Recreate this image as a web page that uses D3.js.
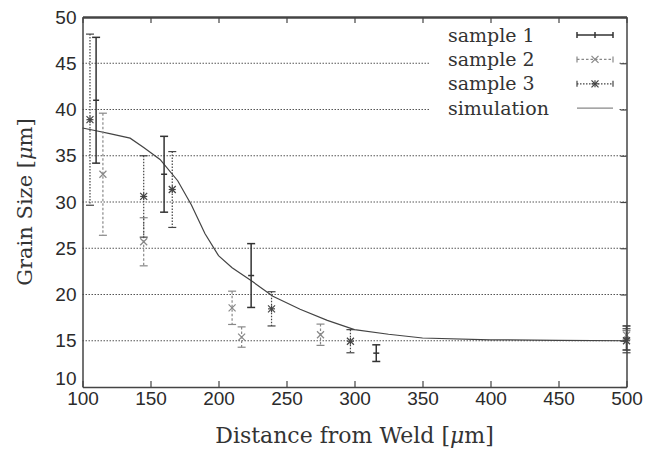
<!DOCTYPE html>
<html>
<head>
<meta charset="utf-8">
<script src="https://cdn.jsdelivr.net/npm/d3@7"></script>
<style>
  body { margin: 0; background: #fff; }
  svg { display: block; }
  .tick text { font-family: "Liberation Sans", Arial, sans-serif; font-size: 19px; fill: #2b2b2b; }
  .title { font-family: "DejaVu Serif", serif; font-size: 19px; fill: #333; }
</style>
</head>
<body>
<svg id="chart" width="650" height="450"></svg>
<script>
// measured grain sizes: [distance, mean, half error]
const sample1 = [[110, 41.0, 6.8], [160, 33.0, 4.1], [224, 22.05, 3.45], [316, 13.66, 0.9], [500, 15.3, 1.3]];
const sample2 = [[115, 33.0, 6.6], [145, 25.7, 2.6], [210, 18.56, 1.8], [217, 15.4, 1.1], [275, 15.65, 1.15], [500, 15.6, 0.5]];
const sample3 = [[105.5, 38.9, 9.25], [145, 30.6, 4.4], [166, 31.35, 4.1], [239, 18.45, 1.85], [297, 14.95, 1.25], [500, 15.0, 1.3]];
const simX = [100, 110, 120, 135, 145, 157, 170, 180, 190, 200, 210, 225, 240, 260, 280, 300, 325, 350, 400, 450, 500];
const simY = [38.0, 37.7, 37.4, 36.9, 35.9, 34.6, 32.3, 29.7, 26.6, 24.2, 22.9, 21.4, 19.8, 18.4, 17.2, 16.2, 15.7, 15.3, 15.1, 15.05, 15.0];
const xTicks = [100, 150, 200, 250, 300, 350, 400, 450, 500];
const yTicks = [10, 15, 20, 25, 30, 35, 40, 45, 50];
const legendLabels = ['sample 1', 'sample 2', 'sample 3', 'simulation'];

const svg = d3.select('#chart');
const x = d3.scaleLinear().domain([100, 500]).range([82.5, 626.5]);
const y = d3.scaleLinear().domain([10, 50]).range([387, 17]);

// horizontal dotted grid
svg.append('g')
  .selectAll('line')
  .data(yTicks.slice(1, -1))
  .join('line')
  .attr('x1', x(100)).attr('x2', x(500))
  .attr('y1', d => y(d)).attr('y2', d => y(d))
  .attr('stroke', '#555').attr('stroke-width', 1)
  .attr('stroke-dasharray', '1.5,1.5');

// simulation curve
svg.append('path')
  .datum(d3.zip(simX, simY))
  .attr('fill', 'none')
  .attr('stroke', '#444').attr('stroke-width', 1.2)
  .attr('d', d3.line().x(d => x(d[0])).y(d => y(d[1])));

const styles = [
  { data: sample1, color: '#333', width: 1.5, dash: null, mark: 'tick' },
  { data: sample2, color: '#888', width: 1.2, dash: '2.5,2', mark: 'x' },
  { data: sample3, color: '#444', width: 1.2, dash: '1.5,1.5', mark: 'star' }
];

function drawMark (g, cx, cy, s) {
  const r = 3.5;
  if (s.mark === 'tick') {
    g.append('line').attr('x1', cx - 3).attr('x2', cx + 3).attr('y1', cy).attr('y2', cy);
    return;
  }
  g.append('line').attr('x1', cx - r).attr('x2', cx + r).attr('y1', cy - r).attr('y2', cy + r);
  g.append('line').attr('x1', cx - r).attr('x2', cx + r).attr('y1', cy + r).attr('y2', cy - r);
  if (s.mark === 'star') {
    g.append('line').attr('x1', cx - r).attr('x2', cx + r).attr('y1', cy).attr('y2', cy);
    g.append('line').attr('x1', cx).attr('x2', cx).attr('y1', cy - r).attr('y2', cy + r);
  }
}

styles.forEach(s => {
  s.data.forEach(d => {
    const g = svg.append('g').attr('stroke', s.color).attr('stroke-width', s.width);
    const cx = x(d[0]);
    g.append('line').attr('x1', cx).attr('x2', cx)
      .attr('y1', y(d[1] + d[2])).attr('y2', y(d[1] - d[2]))
      .attr('stroke-dasharray', s.dash);
    [d[1] + d[2], d[1] - d[2]].forEach(v => {
      g.append('line').attr('x1', cx - 4).attr('x2', cx + 4).attr('y1', y(v)).attr('y2', y(v));
    });
    drawMark(g, cx, y(d[1]), s);
  });
});

// legend box covers the grid
const lg = svg.append('g');
lg.append('rect').attr('x', 430).attr('y', 20).attr('width', 188).attr('height', 100).attr('fill', '#fff');
legendLabels.forEach((label, i) => {
  const ly = 35 + i * 24.4;
  lg.append('text').attr('class', 'title').attr('x', 448).attr('y', ly).attr('dy', '0.35em').text(label);
  const g = lg.append('g');
  if (i < 3) {
    const s = styles[i];
    g.attr('stroke', s.color).attr('stroke-width', s.width);
    g.append('line').attr('x1', 577).attr('x2', 613).attr('y1', ly).attr('y2', ly).attr('stroke-dasharray', s.dash);
    [577, 613].forEach(px => g.append('line').attr('x1', px).attr('x2', px).attr('y1', ly - 3).attr('y2', ly + 3));
    if (s.mark === 'tick') g.append('line').attr('x1', 595).attr('x2', 595).attr('y1', ly - 3).attr('y2', ly + 3);
    else drawMark(g, 595, ly, s);
  } else {
    g.append('line').attr('x1', 577).attr('x2', 613).attr('y1', ly).attr('y2', ly).attr('stroke', '#888').attr('stroke-width', 1.2);
  }
});

// axes with inward ticks
const axBottom = svg.append('g').attr('transform', `translate(0,${y(10)})`)
  .call(d3.axisBottom(x).tickValues(xTicks).tickSizeInner(-6).tickSizeOuter(0).tickPadding(4));
const axTop = svg.append('g').attr('transform', `translate(0,${y(50)})`)
  .call(d3.axisTop(x).tickValues(xTicks).tickSizeInner(-6).tickSizeOuter(0).tickFormat(''));
const axLeft = svg.append('g').attr('transform', `translate(${x(100)},0)`)
  .call(d3.axisLeft(y).tickValues(yTicks).tickSizeInner(0).tickSizeOuter(0).tickPadding(6));
const axRight = svg.append('g').attr('transform', `translate(${x(500)},0)`)
  .call(d3.axisRight(y).tickValues(yTicks).tickSizeInner(-6).tickSizeOuter(0).tickFormat(''));
[axBottom, axTop, axLeft, axRight].forEach(a => {
  a.selectAll('.domain').attr('stroke', '#444').attr('stroke-width', 1.5);
  a.selectAll('.tick line').attr('stroke', '#444').attr('stroke-width', 1.2);
});
axTop.select('.domain').attr('stroke-width', 2.5);
axBottom.selectAll('.tick text').attr('dy', '0.75em');
axLeft.selectAll('.tick text').filter(d => d === 10).attr('dy', '-0.15em');

// axis titles
svg.append('text').attr('class', 'title')
  .attr('transform', `translate(32,${(y(10) + y(50)) / 2}) rotate(-90)`)
  .attr('text-anchor', 'middle')
  .style('font-size', '21px')
  .html('Grain Size [<tspan font-style="italic">μ</tspan>m]');
svg.append('text').attr('class', 'title')
  .attr('x', (x(100) + x(500)) / 2).attr('y', 443)
  .attr('text-anchor', 'middle')
  .style('font-size', '22px')
  .html('Distance from Weld [<tspan font-style="italic">μ</tspan>m]');
</script>
</body>
</html>
